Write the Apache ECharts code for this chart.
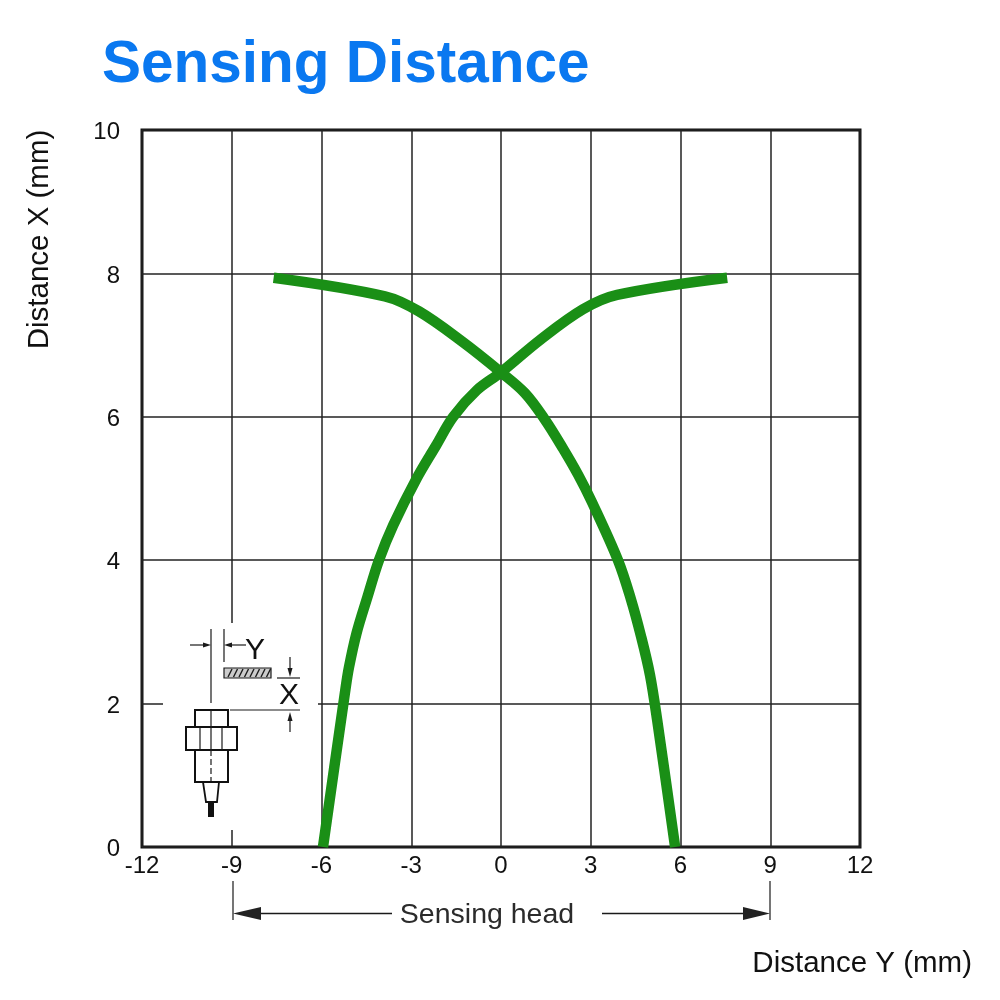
<!DOCTYPE html>
<html><head><meta charset="utf-8">
<style>html,body{margin:0;padding:0;background:#fff}#c{width:1000px;height:1000px}</style>
<script src="https://cdn.jsdelivr.net/npm/echarts@6/dist/echarts.min.js"></script>
</head><body><div id="c"></div>
<script>
const titleText = 'Sensing Distance';
const xName = 'Distance Y (mm)';
const yName = 'Distance X (mm)';
const dimensionLabel = 'Sensing head';
// Rising curve: from bottom-left to top-right
const risingY = [-5.95,-5.2,-5.08,-4.83,-4.47,-4.08,-3.6,-2.82,-2.17,-1.6,-0.81,0,1.3,2.74,3.88,7.56];
const risingX = [0,2.2,2.51,2.98,3.48,4,4.49,5.14,5.6,6,6.37,6.62,7.07,7.5,7.7,7.94];
// Falling curve: from top-left to bottom-right
const fallingY = [-7.6,-3.88,-2.74,-1.3,0,0.8,1.47,2.07,2.58,3.04,3.91,4.34,4.68,4.98,5.22,5.82];
const fallingX = [7.94,7.68,7.47,7.05,6.62,6.33,5.96,5.56,5.19,4.81,4,3.46,2.94,2.4,1.77,0];

const pairs = (a, b) => a.map((v, i) => [v, b[i]]);
const ink = '#1a1a1a';
const GREEN = '#1a8f16';
const line = (x1, y1, x2, y2, w = 1.2, c = ink, dash) => ({
  type: 'line', shape: { x1, y1, x2, y2 }, style: { stroke: c, lineWidth: w, lineDash: dash }, silent: true
});
const poly = (points, fill, stroke, w = 0) => ({
  type: 'polygon', shape: { points }, style: { fill, stroke, lineWidth: w }, silent: true
});
const label = (x, y, text, size, c = '#111') => ({
  type: 'text', x, y, style: { text, fill: c, font: size + 'px "Liberation Sans"', align: 'center', verticalAlign: 'middle' }, silent: true
});

const inset = [
  { type: 'rect', shape: { x: 163, y: 623, width: 155, height: 207 }, style: { fill: '#fff' }, silent: true },
  line(211, 629, 211, 703), line(224, 629, 224, 662),
  line(190, 645, 208, 645), poly([[211, 645], [203, 642.5], [203, 647.5]], ink),
  line(227, 645, 246, 645), poly([[224, 645], [232, 642.5], [232, 647.5]], ink),
  label(255, 651, 'Y', 30),
  { type: 'rect', shape: { x: 224, y: 668, width: 47, height: 10 }, style: { fill: '#ccc', stroke: ink, lineWidth: 1.2 }, silent: true }
];
for (let x = 228; x < 271; x += 5.5) inset.push(line(x, 677, x + 4, 669, 1.4));
inset.push(
  line(277, 678, 300, 678), line(230, 710, 300, 710),
  label(289, 696, 'X', 30),
  line(290, 657, 290, 672), poly([[290, 677], [287.5, 668], [292.5, 668]], ink),
  line(290, 717, 290, 732), poly([[290, 712], [287.5, 721], [292.5, 721]], ink),
  { type: 'rect', shape: { x: 195, y: 710, width: 33, height: 72 }, style: { fill: '#fff', stroke: '#111', lineWidth: 2 }, silent: true },
  { type: 'rect', shape: { x: 186, y: 727, width: 51, height: 23 }, style: { fill: '#fff', stroke: '#111', lineWidth: 2 }, silent: true },
  line(200, 727, 200, 750), line(222, 727, 222, 750),
  line(211, 710, 211, 750), line(211, 750, 211, 782, 1.2, ink, [6, 3]),
  poly([[203, 782], [206, 802], [217, 802], [219, 782]], '#fff', '#111', 1.8),
  { type: 'rect', shape: { x: 208, y: 802, width: 6, height: 15 }, style: { fill: '#111' }, silent: true }
);
const dimension = [
  line(233, 881, 233, 920), line(770, 881, 770, 920),
  line(250, 913.5, 392, 913.5, 1.3), line(602, 913.5, 755, 913.5, 1.3),
  poly([[233, 913.5], [261, 907], [261, 920]], '#222'),
  poly([[770, 913.5], [743, 907], [743, 920]], '#222'),
  label(487, 915, dimensionLabel, 28.5, '#2b2b2b')
];

const chart = echarts.init(document.getElementById('c'), null, { renderer: 'canvas' });
chart.setOption({
  animation: false,
  backgroundColor: '#fff',
  title: {
    text: titleText, left: 97, top: 31,
    textStyle: { color: '#0a78f0', fontFamily: 'Liberation Sans', fontWeight: 'bold', fontSize: 58.5 }
  },
  grid: { left: 142, top: 130, width: 718, height: 717, show: true, borderColor: '#111', borderWidth: 3, backgroundColor: 'transparent' },
  xAxis: {
    type: 'value', min: -12, max: 12, interval: 3,
    name: xName, nameLocation: 'end', nameGap: 112,
    nameTextStyle: { color: '#111', fontFamily: 'Liberation Sans', fontSize: 29.5, align: 'right', verticalAlign: 'top', padding: [102, 0, 0, 0] },
    axisLine: { show: false }, axisTick: { show: false },
    axisLabel: { color: '#111', fontFamily: 'Liberation Sans', fontSize: 24, margin: 7, showMinLabel: true, showMaxLabel: true },
    splitLine: { show: true, lineStyle: { color: '#222', width: 1.5 } }
  },
  yAxis: {
    type: 'value', min: 0, max: 10, interval: 2,
    name: yName, nameLocation: 'middle', nameRotate: 90, nameGap: 87,
    nameTextStyle: { color: '#111', fontFamily: 'Liberation Sans', fontSize: 29.5, padding: [0, 0, 0, 498] },
    axisLine: { show: false }, axisTick: { show: false },
    axisLabel: { color: '#111', fontFamily: 'Liberation Sans', fontSize: 24, margin: 22, verticalAlign: 'top', lineHeight: 5, showMinLabel: true, showMaxLabel: true },
    splitLine: { show: true, lineStyle: { color: '#222', width: 1.5 } }
  },
  series: [
    { name: 'Rising', type: 'line', data: pairs(risingY, risingX), smooth: 0.35, showSymbol: false, z: 5, lineStyle: { color: GREEN, width: 10.5, cap: 'butt', join: 'round' } },
    { name: 'Falling', type: 'line', data: pairs(fallingY, fallingX), smooth: 0.35, showSymbol: false, z: 5, lineStyle: { color: GREEN, width: 10.5, cap: 'butt', join: 'round' } }
  ],
  graphic: { elements: [{ type: 'group', z: 1, children: inset.concat(dimension).map(e => ({ ...e, z: 1 })) }] }
});
</script></body></html>
